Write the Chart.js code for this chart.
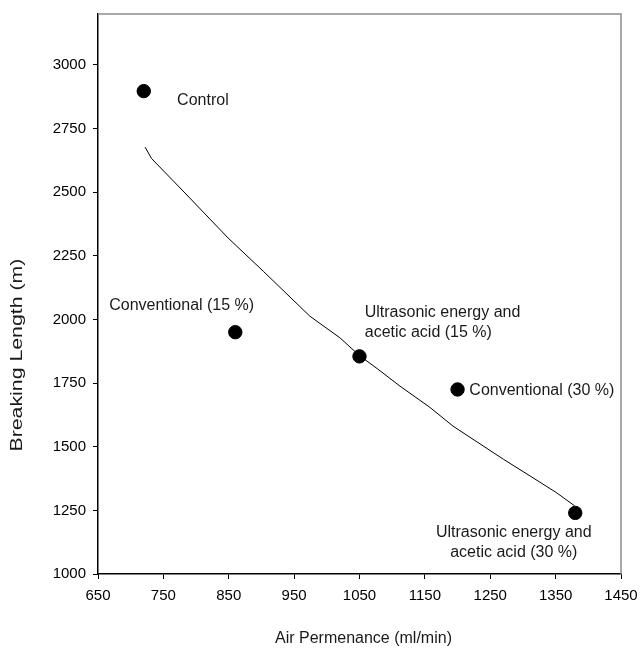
<!DOCTYPE html>
<html>
<head>
<meta charset="utf-8">
<script src="https://cdn.jsdelivr.net/npm/chart.js@4/dist/chart.umd.min.js"></script>
<style>
html,body{margin:0;padding:0;background:#fff;}
#wrap{width:640px;height:648px;}
</style>
</head>
<body>
<div id="wrap"><canvas id="c" width="640" height="648"></canvas></div>
<script>
// ---- data ----
const xTickValues = [650, 750, 850, 950, 1050, 1150, 1250, 1350, 1450];
const yTickValues = [1000, 1250, 1500, 1750, 2000, 2250, 2500, 2750, 3000];
const pointNames = ["Control", "Conventional (15 %)", "Ultrasonic energy and acetic acid (15 %)", "Conventional (30 %)", "Ultrasonic energy and acetic acid (30 %)"];
const pointX = [720, 860, 1050, 1200, 1380];
const pointY = [2897, 1950, 1855, 1725, 1240];
const fitX = [722, 732, 783, 849, 903, 974, 1020, 1050, 1078, 1112, 1158, 1193, 1270, 1311, 1351, 1379];
const fitY = [2677, 2632, 2497, 2320, 2189, 2013, 1928, 1858, 1805, 1738, 1654, 1581, 1451, 1385, 1320, 1268];
const labelLines = [["Control"], ["Conventional (15 %)"], ["Ultrasonic energy and", "acetic acid (15 %)"], ["Conventional (30 %)"], ["Ultrasonic energy and", "acetic acid (30 %)"]];
const labelX = [771, 778, 1058, 1218, 1286];
const labelY = [2859, 2055, 2026, 1719, 1161];
const labelAlign = ["left", "center", "left", "left", "center"];
const xTitle = "Air Permenance (ml/min)";
const yTitle = "Breaking Length (m)";

const FONT = "'Liberation Sans', Arial, sans-serif";

const labelPlugin = {
  id: 'pointLabels',
  afterDatasetsDraw(chart) {
    const ctx = chart.ctx, xs = chart.scales.x, ys = chart.scales.y;
    ctx.save();
    ctx.font = "16px " + FONT;
    ctx.fillStyle = "#1a1a1a";
    ctx.textBaseline = "middle";
    labelLines.forEach((lines, i) => {
      const px = xs.getPixelForValue(labelX[i]);
      const py0 = ys.getPixelForValue(labelY[i]);
      ctx.textAlign = labelAlign[i];
      lines.forEach((t, j) => ctx.fillText(t, px, py0 + j * 20));
    });
    ctx.restore();
  }
};

const framePlugin = {
  id: 'frame',
  afterDraw(chart) {
    const a = chart.chartArea, ctx = chart.ctx;
    ctx.save();
    ctx.strokeStyle = "#8c8c8c";
    ctx.lineWidth = 1.5;
    ctx.beginPath();
    ctx.moveTo(a.left, a.top);
    ctx.lineTo(a.right, a.top);
    ctx.lineTo(a.right, a.bottom);
    ctx.stroke();
    // axis titles
    ctx.fillStyle = "#1a1a1a";
    ctx.textAlign = "center";
    ctx.textBaseline = "middle";
    ctx.font = "16px " + FONT;
    ctx.fillText(xTitle, (a.left + a.right) / 2 + 4, 639);
    ctx.translate(18, chart.scales.y.getPixelForValue(1860));
    ctx.rotate(-Math.PI / 2);
    ctx.scale(1.33, 1);
    ctx.font = "16px " + FONT;
    ctx.fillText(yTitle, 0, 0);
    ctx.restore();
  }
};

new Chart(document.getElementById('c'), {
  type: 'scatter',
  data: {
    datasets: [
      {
        label: 'fit',
        data: fitX.map((x, i) => ({x: x, y: fitY[i]})),
        showLine: true,
        borderColor: '#000',
        borderWidth: 1,
        pointRadius: 0,
        tension: 0,
        order: 2
      },
      {
        label: 'points',
        data: pointX.map((x, i) => ({x: x, y: pointY[i]})),
        backgroundColor: '#000',
        borderColor: '#000',
        pointRadius: 6.7,
        pointStyle: 'circle',
        order: 1
      }
    ]
  },
  options: {
    responsive: false,
    animation: false,
    layout: {padding: {top: 14, right: 19, left: 0, bottom: 0}},
    plugins: {legend: {display: false}, tooltip: {enabled: false}},
    scales: {
      x: {
        type: 'linear',
        min: 650, max: 1450,
        afterBuildTicks: s => { s.ticks = xTickValues.map(v => ({value: v})); },
        afterFit: s => { s.height = 74; s.paddingLeft = 0; s.paddingRight = 0; },
        grid: {drawOnChartArea: false, tickLength: 5, color: '#000', tickColor: '#000'},
        border: {color: '#000', width: 1.5},
        ticks: {color: '#000', font: {family: FONT, size: 15}, padding: 8, maxRotation: 0,
                callback: v => String(v)},
        title: {display: false}
      },
      y: {
        type: 'linear',
        min: 1000, max: 3200,
        afterBuildTicks: s => { s.ticks = yTickValues.map(v => ({value: v})); },
        afterFit: s => { s.width = 98; s.paddingTop = 0; s.paddingBottom = 0; },
        grid: {drawOnChartArea: false, tickLength: 5, color: '#000', tickColor: '#000'},
        border: {color: '#000', width: 1.5},
        ticks: {color: '#000', font: {family: FONT, size: 15}, padding: 7,
                callback: v => String(v)},
        title: {display: false}
      }
    }
  },
  plugins: [labelPlugin, framePlugin]
});
</script>
</body>
</html>
